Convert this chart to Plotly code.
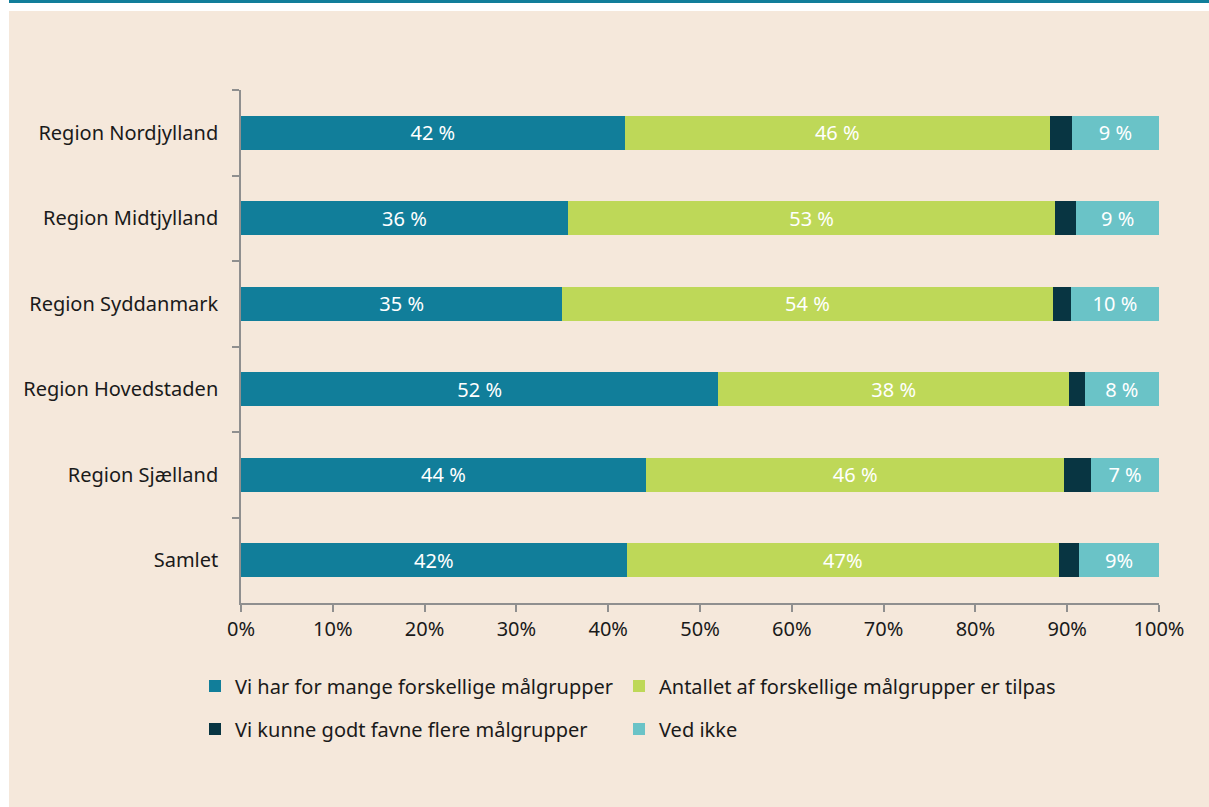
import plotly.graph_objects as go

categories = ["Region Nordjylland", "Region Midtjylland", "Region Syddanmark",
              "Region Hovedstaden", "Region Sjælland", "Samlet"]

series_names = ["Vi har for mange forskellige målgrupper",
                "Antallet af forskellige målgrupper er tilpas",
                "Vi kunne godt favne flere målgrupper",
                "Ved ikke"]

for_mange = [41.8, 35.6, 35.0, 52.0, 44.1, 42.0]
tilpas = [46.3, 53.1, 53.4, 38.2, 45.6, 47.1]
flere = [2.4, 2.3, 2.0, 1.7, 2.9, 2.2]
ved_ikke = [9.5, 9.0, 9.6, 8.1, 7.4, 8.7]

labels_for_mange = ["42 %", "36 %", "35 %", "52 %", "44 %", "42%"]
labels_tilpas = ["46 %", "53 %", "54 %", "38 %", "46 %", "47%"]
labels_flere = ["", "", "", "", "", ""]
labels_ved_ikke = ["9 %", "9 %", "10 %", "8 %", "7 %", "9%"]

colors = ["#117E9A", "#BED858", "#083542", "#6AC3C7"]

W, H = 1209, 807
L, R, T, B = 241, 50, 90, 204
pw, ph = W - L - R, H - T - B

def px_x(p):
    return (p - L) / pw

def px_y(p):
    return (H - B - p) / ph

FONT = "Noto Sans"
TXT = "#1a1a1a"
FS = 20

fig = go.Figure()
series = [for_mange, tilpas, flere, ved_ikke]
labels = [labels_for_mange, labels_tilpas, labels_flere, labels_ved_ikke]
legends = ["legend", "legend2", "legend3", "legend4"]
for name, vals, lab, col, lg in zip(series_names, series, labels, colors, legends):
    fig.add_trace(go.Bar(
        y=categories, x=vals, name=name, orientation="h",
        marker=dict(color=col, line=dict(width=0)),
        text=lab, textposition="inside", insidetextanchor="middle",
        textfont=dict(color="white", size=FS, family=FONT),
        constraintext="none", showlegend=True,
        legend=lg, hoverinfo="skip",
    ))

def leg(xpx, ypx):
    return dict(orientation="h", x=px_x(xpx), xanchor="left",
                y=px_y(ypx), yanchor="middle",
                bgcolor="rgba(0,0,0,0)", visible=True,
                font=dict(size=FS, color=TXT, family=FONT))

fig.update_layout(
    width=W, height=H,
    margin=dict(l=L, r=R, t=T, b=B, autoexpand=False),
    barmode="stack", bargap=0.6, showlegend=True,
    paper_bgcolor="white", plot_bgcolor="rgba(0,0,0,0)",
    font=dict(family=FONT, size=FS, color=TXT),
    xaxis=dict(range=[0, 100], dtick=10, ticksuffix="%", showgrid=False,
               zeroline=False, showline=True, linecolor="#8f8f8f", linewidth=1.5,
               ticks="outside", ticklen=7, tickcolor="#8f8f8f", tickwidth=1.5,
               tickfont=dict(size=FS, color=TXT, family=FONT)),
    yaxis=dict(autorange="reversed", showgrid=False, zeroline=False,
               showline=True, linecolor="#8f8f8f", linewidth=1.5,
               ticks="outside", ticklen=7, tickcolor="#8f8f8f", tickwidth=1.5,
               tickson="boundaries", ticklabelstandoff=17,
               tickfont=dict(size=FS, color=TXT, family=FONT)),
    legend=leg(195, 686),
    legend2=leg(619, 686),
    legend3=leg(195, 729),
    legend4=leg(619, 729),
    shapes=[
        dict(type="rect", xref="paper", yref="paper", layer="below",
             x0=px_x(9), x1=px_x(W), y0=px_y(11), y1=px_y(H),
             fillcolor="#F5E8DB", line=dict(width=0)),
        dict(type="rect", xref="paper", yref="paper", layer="below",
             x0=px_x(9), x1=px_x(W), y0=px_y(0), y1=px_y(3),
             fillcolor="#117E9A", line=dict(width=0)),
    ],
)

fig.write_html("out.html", config={"displayModeBar": False},
               post_script="document.body.style.margin='0';")
